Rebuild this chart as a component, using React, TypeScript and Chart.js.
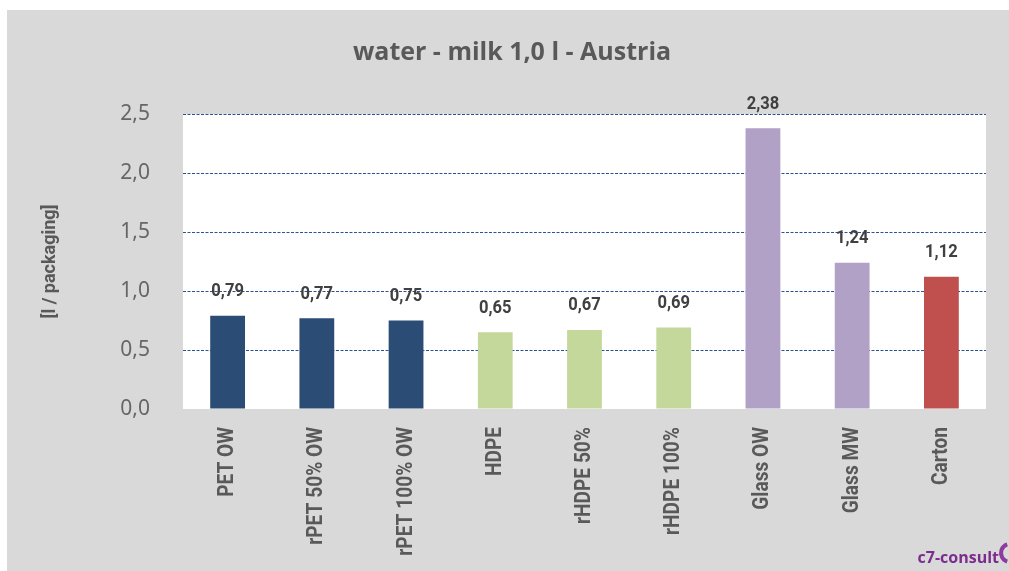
import React, { useEffect, useRef } from "react";
import { Chart, registerables } from "chart.js";

Chart.register(...registerables);

const categories = ["PET OW", "rPET 50% OW", "rPET 100% OW", "HDPE", "rHDPE 50%", "rHDPE 100%", "Glass OW", "Glass MW", "Carton"];
const values = [0.79, 0.77, 0.75, 0.65, 0.67, 0.69, 2.38, 1.24, 1.12];
const barColors = ["#2B4C74", "#2B4C74", "#2B4C74", "#C5D89C", "#C5D89C", "#C5D89C", "#B2A1C7", "#B2A1C7", "#C0504D"];
const chartTitle = "water - milk 1,0 l - Austria";
const yAxisTitle = "[l / packaging]";
const logoText = "c7-consult";

const ROBOTO = "Roboto, 'Noto Sans', sans-serif";
const fmt = (v: number, d: number) => v.toFixed(d).replace(".", ",");

const decorPlugin = {
  id: "decor",
  beforeDraw(chart: any) {
    const { ctx, chartArea } = chart;
    ctx.save();
    ctx.fillStyle = "#FFFFFF";
    ctx.fillRect(0, 0, chart.width, chart.height);
    ctx.fillStyle = "#D9D9D9";
    ctx.fillRect(7, 10, chart.width - 7, chart.height - 10);
    ctx.fillStyle = "#FFFFFF";
    ctx.fillRect(chartArea.left, chartArea.top, chartArea.right - chartArea.left, chartArea.bottom - chartArea.top);
    ctx.restore();
  },
  afterDatasetsDraw(chart: any) {
    const { ctx, chartArea } = chart;
    const meta = chart.getDatasetMeta(0);
    const xScale = chart.scales.x;
    ctx.save();
    // value labels
    ctx.fillStyle = "#404040";
    ctx.font = `bold 18px ${ROBOTO}`;
    ctx.textAlign = "center";
    ctx.textBaseline = "middle";
    meta.data.forEach((el: any, i: number) => {
      ctx.save();
      ctx.translate(el.x, el.y - 24);
      ctx.scale(0.92, 1);
      ctx.fillText(fmt(values[i], 2), 0, 0);
      ctx.restore();
    });
    // category labels
    ctx.fillStyle = "#595959";
    ctx.font = `bold 22px ${ROBOTO}`;
    ctx.textAlign = "right";
    ctx.textBaseline = "middle";
    categories.forEach((c, i) => {
      const x = xScale.getPixelForValue(i);
      ctx.save();
      ctx.translate(x, chartArea.bottom + 18);
      ctx.rotate(-Math.PI / 2);
      ctx.scale(0.87, 1);
      ctx.fillText(c, 0, 0);
      ctx.restore();
    });
    // title
    ctx.fillStyle = "#595959";
    ctx.font = `bold 25px 'Open Sans', ${ROBOTO}`;
    ctx.textAlign = "center";
    ctx.fillText(chartTitle, 512, 53);
    // logo
    ctx.fillStyle = "#7B2C8E";
    ctx.font = "bold 16px 'Open Sans', sans-serif";
    ctx.textAlign = "right";
    ctx.textBaseline = "alphabetic";
    ctx.fillText(logoText, 999, 563);
    ctx.beginPath();
    ctx.arc(1010, 553, 9, Math.PI * 0.6, Math.PI * 1.4);
    ctx.lineWidth = 4;
    ctx.strokeStyle = "#8E3A9F";
    ctx.stroke();
    ctx.restore();
  },
};

export default function App() {
  const ref = useRef<HTMLCanvasElement>(null);
  useEffect(() => {
    if (!ref.current) return;
    const chart = new Chart(ref.current, {
      type: "bar",
      data: {
        labels: categories,
        datasets: [
          {
            data: values,
            backgroundColor: barColors,
            barPercentage: 0.39,
            categoryPercentage: 1,
          },
        ],
      },
      options: {
        animation: false,
        responsive: false,
        layout: { padding: { left: 0, right: 23, top: 114, bottom: 0 } },
        plugins: { legend: { display: false }, title: { display: false }, tooltip: { enabled: false } },
        scales: {
          x: {
            grid: { display: false, drawTicks: false },
            border: { display: false },
            ticks: { display: false },
            afterFit(scale: any) {
              scale.height = 162;
            },
          },
          y: {
            min: 0,
            max: 2.5,
            ticks: {
              stepSize: 0.5,
              color: "#666666",
              font: { family: "'Noto Sans', sans-serif", size: 21 },
              padding: 33,
              callback: (v: any) => fmt(Number(v), 1),
            },
            grid: {
              color: (c: any) => (c.tick && c.tick.value === 0 ? "rgba(0,0,0,0)" : "#2A5394"),
              lineWidth: 1,
              drawTicks: false,
            },
            border: { display: false, dash: [3, 1.5] },
            title: {
              display: true,
              text: yAxisTitle,
              color: "#595959",
              font: { family: ROBOTO, size: 18, weight: "bold" },
              padding: { top: 40, bottom: 0 },
            },
            afterFit(scale: any) {
              scale.width = 183;
            },
          },
        },
      },
      plugins: [decorPlugin],
    } as any);
    return () => chart.destroy();
  }, []);
  return (
    <div style={{ position: "absolute", left: 0, top: 0, width: 1009, height: 571 }}>
      <canvas ref={ref} width={1009} height={571} style={{ display: "block", width: 1009, height: 571 }} />
    </div>
  );
}
